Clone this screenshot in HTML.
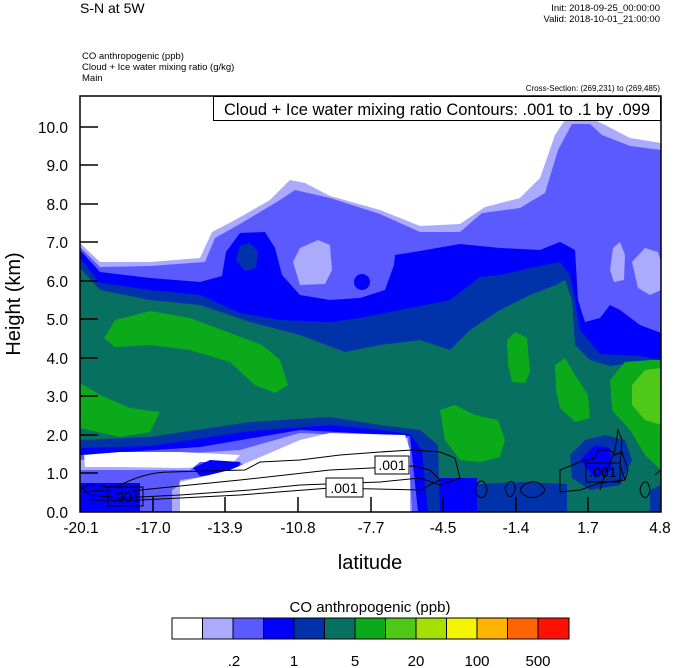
<!DOCTYPE html>
<html><head><meta charset="utf-8"><style>
html,body{margin:0;padding:0;background:#fff}
svg{display:block;font-family:"Liberation Sans",Arial,sans-serif}
</style></head><body>
<svg width="674" height="668" viewBox="0 0 674 668" xmlns="http://www.w3.org/2000/svg">
<rect width="674" height="668" fill="#fff"/>
<text x="80" y="13" font-size="14">S-N at 5W</text>
<text x="660" y="11" font-size="9.5" text-anchor="end">Init: 2018-09-25_00:00:00</text>
<text x="660" y="22" font-size="9.5" text-anchor="end">Valid: 2018-10-01_21:00:00</text>
<text x="82" y="59" font-size="9.5">CO anthropogenic   (ppb)</text>
<text x="82" y="70" font-size="9.5">Cloud + Ice water mixing ratio   (g/kg)</text>
<text x="82" y="81" font-size="9.5">Main</text>
<text x="660" y="91" font-size="8" text-anchor="end">Cross-Section: (269,231) to (269,485)</text>

<clipPath id="pc"><rect x="80" y="96" width="581" height="416"/></clipPath>
<g clip-path="url(#pc)">
<polygon fill="#aaaaff" points="80,243 100,262 150,262 200,258 212,232 235,220 270,200 290,180 305,183 330,196 380,210 420,226 460,224 485,207 520,198 540,178 555,135 565,120 590,118 605,125 630,138 661,143 661,512 80,512"/>
<polygon fill="#5a5aff" points="80,247 100,267 150,266 205,262 215,238 240,224 280,200 295,190 330,198 380,214 420,232 460,232 482,213 520,208 545,193 558,150 572,124 590,124 602,135 630,146 661,150 661,512 80,512"/>
<polygon fill="#aaaaff" points="293,262 300,248 318,240 330,245 332,270 325,284 300,285"/>
<polygon fill="#aaaaff" points="610,270 613,248 620,242 625,255 624,280 614,282"/>
<polygon fill="#aaaaff" points="632,262 645,248 658,252 661,262 661,290 650,295 638,288"/>
<polygon fill="#0000ff" points="80,250 100,272 150,278 200,282 222,276 226,252 240,233 265,232 275,248 282,275 300,295 330,300 360,298 385,290 394,265 395,255 420,251 460,244 500,248 540,250 560,242 575,250 578,300 585,322 600,318 610,305 620,310 640,325 661,333 661,512 80,512"/>
<circle cx="362" cy="282" r="8" fill="#0000ff"/>
<polygon fill="#0033aa" points="80,258 100,283 150,290 200,295 240,313 280,320 330,322 360,318 400,310 450,300 480,277 500,275 530,268 560,262 570,275 575,300 580,330 600,354 640,356 661,360 661,512 80,512"/>
<polygon fill="#0033aa" points="236,260 240,246 250,243 258,252 256,268 245,271"/>
<polygon fill="#087060" points="80,268 100,290 150,300 200,305 250,322 300,335 345,352 380,345 420,340 450,350 470,330 500,310 530,295 556,285 565,280 572,300 575,345 590,360 610,366 640,362 661,360 661,512 80,512"/>
<polygon fill="#0aaa1a" points="104,338 115,320 150,311 190,318 230,333 262,345 280,360 288,385 275,393 255,385 230,362 190,350 150,345 115,347"/>
<polygon fill="#0aaa1a" points="80,383 100,395 130,408 160,412 150,432 120,437 80,428"/>
<polygon fill="#0aaa1a" points="507,340 515,332 527,338 530,372 525,383 512,382 508,365"/>
<polygon fill="#0aaa1a" points="555,365 565,358 575,375 588,395 590,418 575,422 560,408 556,390"/>
<polygon fill="#0aaa1a" points="440,410 455,405 475,415 498,420 505,440 500,457 480,462 460,460 445,440"/>
<polygon fill="#0aaa1a" points="610,380 625,362 650,360 661,360 661,470 645,455 630,430 612,410"/>
<polygon fill="#50c818" points="632,385 645,370 661,368 661,425 645,420 632,405"/>
<!-- bottom right -->
<polygon fill="#0033aa" points="440,482 480,484 520,482 567,484 567,512 440,512"/>
<polygon fill="#0033aa" points="650,490 661,485 661,512 650,512"/>
<polygon fill="#0033aa" points="570,455 585,440 605,435 625,440 632,460 620,485 590,490 572,478"/>
<polygon fill="#0000ff" points="580,460 595,445 610,448 612,470 595,478"/>
<polygon fill="#0000ff" points="428,478 477,478 477,512 428,512"/>
<!-- bottom left stack -->
<polygon fill="#0033aa" points="80,440 150,437 250,422 330,417 380,425 420,430 438,445 440,512 80,512"/>
<polygon fill="#0000ff" points="80,448 150,446 250,431 330,425 380,430 410,434 422,450 428,512 80,512"/>
<polygon fill="#5a5aff" points="80,455 200,447 300,430 410,436 418,512 80,512"/>
<polygon fill="#aaaaff" points="80,460 240,450 300,433 408,438 412,512 80,512"/>
<polygon fill="#fff" points="84,455 120,452 180,452 240,455 230,466 180,468 120,467 85,467"/>
<polygon fill="#5a5aff" points="80,470 190,470 200,462 240,462 250,470 180,480 172,512 80,512"/>
<polygon fill="#0000ff" points="193,468 210,460 240,462 238,473 200,476"/>
<polygon fill="#0000ff" points="80,483 140,483 140,512 80,512"/>
<polygon fill="#aaaaff" points="172,490 180,485 180,512 172,512"/>
<polygon fill="#fff" points="180,512 180,482 230,470 300,440 330,433 405,435 410,450 410,512"/>
<g fill="none" stroke="#000" stroke-width="1">
<path d="M82,488 C95,480 110,492 120,485 C135,478 150,472 170,472 L245,470 L260,462 L300,460 L340,455 L380,452 L412,450 L440,452 L455,458 L460,478 L440,485 L420,478 L380,482 L300,485 L250,490 L180,495 L120,498 L90,495 Z"/>
<path d="M84,492 C100,488 120,495 140,490 L240,480 L330,470 L412,466 L430,470 L440,480 L420,490 L330,488 L240,495 L140,500 L90,500"/>
<path d="M520,490 C525,480 540,478 545,490 C540,500 525,500 520,490 Z"/>
<path d="M560,470 L580,462 L595,458 L598,450 L610,450 L615,455 L622,452 L628,470 L625,480 L600,483 L580,490 L560,492 Z"/>
<path d="M600,490 C605,470 612,460 615,450 L618,430 L622,440 L620,465 L625,480"/>
<path d="M475,490 C478,478 485,478 487,490 C485,500 478,500 475,490 Z"/>
<path d="M505,488 C510,478 515,480 515,490 C512,500 507,498 505,488 Z"/>
<path d="M640,490 C642,480 648,478 650,490 C648,500 642,500 640,490 Z"/>
<path d="M655,475 L661,470"/>
</g>
<g font-size="14" text-anchor="middle">
<rect x="108" y="487" width="35" height="19" fill="none" stroke="#000"/><text x="126" y="502">.001</text>
<rect x="326" y="478" width="37" height="19" fill="#fff" stroke="#000"/><text x="344" y="493">.001</text>
<rect x="375" y="456" width="34" height="18" fill="#fff" stroke="#000"/><text x="392" y="470">.001</text>
<rect x="586" y="463" width="34" height="19" fill="none" stroke="#000"/><text x="603" y="477">.001</text>
</g>
</g>
<rect x="80" y="96" width="581" height="416" fill="none" stroke="#000" stroke-width="1.5"/>
<rect x="213.5" y="96.5" width="447" height="24" fill="#fff" stroke="#000"/>
<text x="437" y="115" font-size="16.5" text-anchor="middle">Cloud + Ice water mixing ratio Contours: .001 to .1 by .099</text>
<g stroke="#000" stroke-width="1.5">
<line x1="80" y1="127" x2="98" y2="127"/><line x1="80" y1="165" x2="98" y2="165"/><line x1="80" y1="204" x2="98" y2="204"/><line x1="80" y1="242" x2="98" y2="242"/><line x1="80" y1="281" x2="98" y2="281"/><line x1="80" y1="319" x2="98" y2="319"/><line x1="80" y1="358" x2="98" y2="358"/><line x1="80" y1="396" x2="98" y2="396"/><line x1="80" y1="435" x2="98" y2="435"/><line x1="80" y1="473" x2="98" y2="473"/>
<line x1="153" y1="512" x2="153" y2="497"/><line x1="225" y1="512" x2="225" y2="497"/><line x1="298" y1="512" x2="298" y2="497"/><line x1="371" y1="512" x2="371" y2="497"/><line x1="443" y1="512" x2="443" y2="497"/><line x1="516" y1="512" x2="516" y2="497"/><line x1="588" y1="512" x2="588" y2="497"/>
</g>
<g font-size="15.5" text-anchor="end">
<text x="68" y="133">10.0</text><text x="68" y="171">9.0</text><text x="68" y="210">8.0</text><text x="68" y="248">7.0</text><text x="68" y="287">6.0</text><text x="68" y="325">5.0</text><text x="68" y="364">4.0</text><text x="68" y="402">3.0</text><text x="68" y="441">2.0</text><text x="68" y="479">1.0</text><text x="68" y="518">0.0</text>
</g>
<g font-size="15.5" text-anchor="middle">
<text x="81" y="533">-20.1</text><text x="153" y="533">-17.0</text><text x="225" y="533">-13.9</text><text x="298" y="533">-10.8</text><text x="371" y="533">-7.7</text><text x="443" y="533">-4.5</text><text x="516" y="533">-1.4</text><text x="588" y="533">1.7</text><text x="660" y="533">4.8</text>
</g>
<text x="370" y="569" font-size="20" text-anchor="middle">latitude</text>
<text transform="translate(20,304) rotate(-90)" font-size="20" text-anchor="middle">Height (km)</text>
<text x="370" y="612" font-size="15" text-anchor="middle">CO anthropogenic  (ppb)</text>
<g stroke="#000" stroke-width="1">
<rect x="172" y="618" width="30.5" height="21" fill="#fff"/>
<rect x="202.5" y="618" width="30.5" height="21" fill="#aaaaff"/>
<rect x="233" y="618" width="30.5" height="21" fill="#5a5aff"/>
<rect x="263.5" y="618" width="30.5" height="21" fill="#0000ff"/>
<rect x="294" y="618" width="30.5" height="21" fill="#0033aa"/>
<rect x="324.5" y="618" width="30.5" height="21" fill="#087060"/>
<rect x="355" y="618" width="30.5" height="21" fill="#0aaa1a"/>
<rect x="385.5" y="618" width="30.5" height="21" fill="#50c818"/>
<rect x="416" y="618" width="30.5" height="21" fill="#a5e000"/>
<rect x="446.5" y="618" width="30.5" height="21" fill="#f5f500"/>
<rect x="477" y="618" width="30.5" height="21" fill="#ffb400"/>
<rect x="507.5" y="618" width="30.5" height="21" fill="#ff6400"/>
<rect x="538" y="618" width="31" height="21" fill="#ff1000"/>
</g>
<g font-size="15" text-anchor="middle">
<text x="234" y="666">.2</text><text x="294" y="666">1</text><text x="355" y="666">5</text><text x="416" y="666">20</text><text x="477" y="666">100</text><text x="538" y="666">500</text>
</g>
</svg>
</body></html>
